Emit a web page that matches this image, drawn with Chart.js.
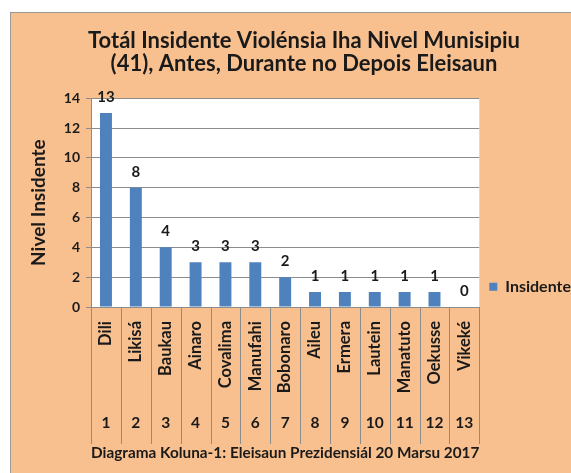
<!DOCTYPE html>
<html>
<head>
<meta charset="utf-8">
<script src="https://cdn.jsdelivr.net/npm/chart.js@4/dist/chart.umd.min.js"></script>
<style>
  html, body { margin: 0; padding: 0; background: #fff; overflow: hidden; }
  #frame {
    position: absolute; left: 10px; top: 12px;
    width: 574px; height: 461px;
    background: #f9c08f;
    border-left: 1px solid #9a9a9a; border-top: 1px solid #9a9a9a;
  }
  canvas { display: block; }
</style>
</head>
<body>
<div id="frame"><canvas id="chart" width="574" height="461"></canvas></div>
<script>
// data
const municipalities = ['Dili', 'Likisá', 'Baukau', 'Ainaro', 'Covalima', 'Manufahi', 'Bobonaro',
                        'Aileu', 'Ermera', 'Lautein', 'Manatuto', 'Oekusse', 'Vikeké'];
const columnNumbers = ['1', '2', '3', '4', '5', '6', '7', '8', '9', '10', '11', '12', '13'];
const incidents = [13, 8, 4, 3, 3, 3, 2, 1, 1, 1, 1, 1, 0];
const seriesName = 'Insidente';
const titleLines = ['Totál Insidente Violénsia Iha Nivel Munisipiu', '(41), Antes, Durante no Depois Eleisaun'];
const yAxisTitle = 'Nivel Insidente';
const caption = 'Diagrama Koluna-1: Eleisaun Prezidensiál 20 Marsu 2017';

const FONT = 'Lato, "DejaVu Sans", sans-serif';
const INK = '#1a1a1a';
const GRID = '#8c8c8c';

// white plot area behind bars
const plotBackground = {
    id: 'plotBackground',
    beforeDraw(chart) {
        const { ctx, chartArea: a } = chart;
        ctx.save();
        ctx.fillStyle = '#ffffff';
        ctx.fillRect(a.left, a.top, a.right - a.left, a.bottom - a.top);
        ctx.restore();
    }
};

// vertical separators between categories below the plot
const categoryDividers = {
    id: 'categoryDividers',
    afterDraw(chart) {
        const { ctx, chartArea: a } = chart;
        const x = chart.scales.x;
        const step = x.getPixelForValue(1) - x.getPixelForValue(0);
        const bottom = a.bottom + 137;
        ctx.save();
        ctx.strokeStyle = GRID;
        ctx.lineWidth = 1;
        for (let i = 0; i <= municipalities.length; i++) {
            const px = Math.round(x.getPixelForValue(i) - step / 2) + 0.5;
            ctx.beginPath();
            ctx.moveTo(px, a.bottom);
            ctx.lineTo(px, bottom);
            ctx.stroke();
        }
        ctx.restore();
    }
};

// value labels on top of bars
const valueLabels = {
    id: 'valueLabels',
    afterDatasetsDraw(chart) {
        const { ctx } = chart;
        const meta = chart.getDatasetMeta(0);
        ctx.save();
        ctx.fillStyle = INK;
        ctx.font = 'bold 15px ' + FONT;
        ctx.textAlign = 'center';
        ctx.textBaseline = 'middle';
        meta.data.forEach((bar, i) => {
            ctx.fillText(String(incidents[i]), bar.x, bar.y - 16);
        });
        ctx.restore();
    }
};

new Chart(document.getElementById('chart'), {
    type: 'bar',
    data: {
        labels: municipalities,
        datasets: [{
            label: seriesName,
            data: incidents,
            backgroundColor: '#4f81bd',
            barPercentage: 0.4,
            categoryPercentage: 1
        }]
    },
    options: {
        responsive: false,
        animation: false,
        layout: { padding: { top: 16, left: 16, right: 4, bottom: 12 } },
        plugins: {
            title: {
                display: true,
                text: titleLines,
                color: INK,
                font: { family: FONT, size: 22, weight: 'bold', lineHeight: 1.05 },
                padding: { top: 0, bottom: 23 }
            },
            legend: {
                position: 'right',
                align: 'center',
                title: { display: true, text: '', padding: 34 },
                labels: {
                    color: INK,
                    boxWidth: 8,
                    boxHeight: 8,
                    font: { family: FONT, size: 16, weight: 'bold' }
                }
            },
            tooltip: { enabled: false }
        },
        scales: {
            x: {
                position: 'bottom',
                grid: { display: false, drawTicks: false },
                border: { display: false },
                ticks: {
                    color: INK,
                    minRotation: 90,
                    maxRotation: 90,
                    padding: 14,
                    font: { family: FONT, size: 16.5, weight: 'bold' }
                },
                afterFit(scale) { scale.height = 86; }
            },
            xNum: {
                type: 'category',
                position: 'bottom',
                labels: columnNumbers,
                grid: { display: false, drawTicks: false },
                border: { display: false },
                ticks: {
                    color: INK,
                    maxRotation: 0,
                    padding: 21,
                    font: { family: FONT, size: 15.5, weight: 'bold' }
                },
                title: {
                    display: true,
                    text: caption,
                    color: INK,
                    font: { family: FONT, size: 15.5, weight: 'bold' },
                    padding: { top: 12, bottom: 0 }
                },
                afterFit(scale) { scale.height = 69; }
            },
            y: {
                min: 0,
                max: 14,
                ticks: {
                    stepSize: 2,
                    color: INK,
                    padding: 6,
                    font: { family: FONT, size: 14, weight: 'bold' }
                },
                grid: { color: GRID, tickLength: 5 },
                border: { color: GRID },
                title: {
                    display: true,
                    text: yAxisTitle,
                    color: INK,
                    font: { family: FONT, size: 19, weight: 'bold' },
                    padding: { top: 0, bottom: 8 }
                }
            }
        }
    },
    plugins: [plotBackground, categoryDividers, valueLabels]
});
</script>
</body>
</html>
